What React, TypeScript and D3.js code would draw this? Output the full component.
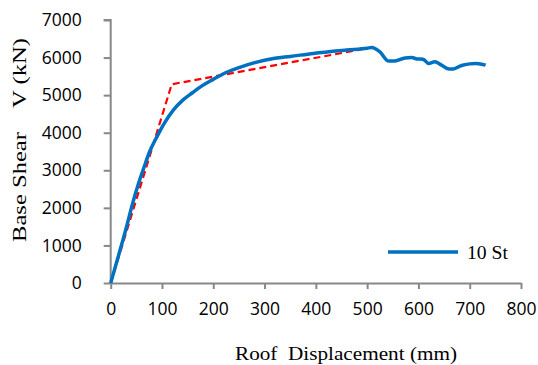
import React, { useEffect, useRef } from 'react';
import * as d3 from 'd3';

// pushover curve (roof displacement mm, base shear kN)
const dispValues = [0, 10, 20, 30, 43, 55, 65, 76, 90, 105, 122, 140, 160, 175, 200, 220, 250, 285, 320, 350, 395, 460, 500, 509, 525, 541, 554, 574, 587, 597, 609, 620, 632, 645, 660, 668, 684, 700, 713, 731];
const shearValues = [0, 480, 960, 1450, 2130, 2680, 3080, 3500, 3890, 4260, 4600, 4860, 5070, 5220, 5420, 5570, 5730, 5880, 5980, 6030, 6110, 6200, 6250, 6268, 6150, 5912, 5912, 5990, 6000, 5965, 5957, 5843, 5886, 5798, 5699, 5699, 5790, 5832, 5843, 5798];

// bilinear idealisation
const bilinDisp = [0, 119, 500];
const bilinShear = [0, 5290, 6245];

const xTicks = [0, 100, 200, 300, 400, 500, 600, 700, 800];
const yTicks = [0, 1000, 2000, 3000, 4000, 5000, 6000, 7000];

const W = 538;
const H = 365;
const margin = { top: 20, right: 17, bottom: 82, left: 110.7 };
const width = W - margin.left - margin.right;
const height = H - margin.top - margin.bottom;

export default function App() {
    const svgRef = useRef<SVGSVGElement>(null);

    useEffect(() => {
        const root = d3.select(svgRef.current);
        root.selectAll('*').remove();
        const svg = root.append('g').attr('transform', `translate(${margin.left}, ${margin.top})`);

        const x = d3.scaleLinear().domain([0, 800]).range([0, width]);
        const y = d3.scaleLinear().domain([0, 7000]).range([height, 0]);

        // Y axis
        const yAxis = svg
            .append('g')
            .call(d3.axisLeft(y).tickValues(yTicks).tickFormat(d3.format('d')).tickSize(7).tickPadding(22).tickSizeOuter(0));
        yAxis.selectAll('line').attr('stroke', '#888').attr('stroke-width', 2);
        yAxis.select('.domain').attr('stroke', '#888').attr('stroke-width', 2).attr('d', `M0,${height}V0H-7`);
        yAxis.selectAll('text').attr('font-family', 'Open Sans').attr('font-size', 17.5).attr('fill', '#000');

        // X axis
        const xAxis = svg
            .append('g')
            .attr('transform', `translate(0, ${height})`)
            .call(d3.axisBottom(x).tickValues(xTicks).tickFormat(d3.format('d')).tickSize(6).tickPadding(14).tickSizeOuter(0));
        xAxis.selectAll('line').attr('stroke', '#888').attr('stroke-width', 2);
        xAxis.select('.domain').attr('stroke', '#888').attr('stroke-width', 2);
        xAxis.selectAll('text').attr('font-family', 'Open Sans').attr('font-size', 17.5).attr('fill', '#000');

        // bilinear dashed
        const pts: [number, number][] = bilinDisp.map((d, i) => [d, bilinShear[i]]);
        svg.append('path')
            .datum(pts)
            .attr('d', d3.line<[number, number]>().x((d) => x(d[0])).y((d) => y(d[1])))
            .attr('fill', 'none')
            .attr('stroke', '#FF0000')
            .attr('stroke-width', 2.2)
            .attr('stroke-dasharray', '7,4');

        // pushover curve
        const curve: [number, number][] = dispValues.map((d, i) => [d, shearValues[i]]);
        svg.append('path')
            .datum(curve)
            .attr('d', d3.line<[number, number]>().x((d) => x(d[0])).y((d) => y(d[1])).curve(d3.curveMonotoneX))
            .attr('fill', 'none')
            .attr('stroke', '#0070C0')
            .attr('stroke-width', 3.5)
            .attr('stroke-linejoin', 'round');

        // legend
        root.append('line')
            .attr('x1', 388).attr('x2', 458).attr('y1', 252).attr('y2', 252)
            .attr('stroke', '#0070C0').attr('stroke-width', 3.5);
        root.append('text')
            .attr('x', 467).attr('y', 258.5)
            .attr('font-family', 'Liberation Serif').attr('font-size', 19.5)
            .attr('textLength', 41).attr('lengthAdjust', 'spacingAndGlyphs')
            .text('10 St');

        // axis titles
        root.append('text')
            .attr('x', 346).attr('y', 359.5)
            .attr('text-anchor', 'middle')
            .attr('font-family', 'Liberation Serif').attr('font-size', 19.5)
            .attr('textLength', 222).attr('lengthAdjust', 'spacingAndGlyphs')
            .style('white-space', 'pre')
            .text('Roof  Displacement (mm)');
        root.append('text')
            .attr('transform', 'translate(25.5, 140) rotate(-90)')
            .attr('text-anchor', 'middle')
            .attr('font-family', 'Liberation Serif').attr('font-size', 19.5)
            .attr('textLength', 204).attr('lengthAdjust', 'spacingAndGlyphs')
            .style('white-space', 'pre')
            .text('Base Shear    V (kN)');
    }, []);

    return (
        <svg
            ref={svgRef}
            width={W}
            height={H}
            style={{ position: 'absolute', left: 0, top: 0, background: '#fff' }}
        />
    );
}
